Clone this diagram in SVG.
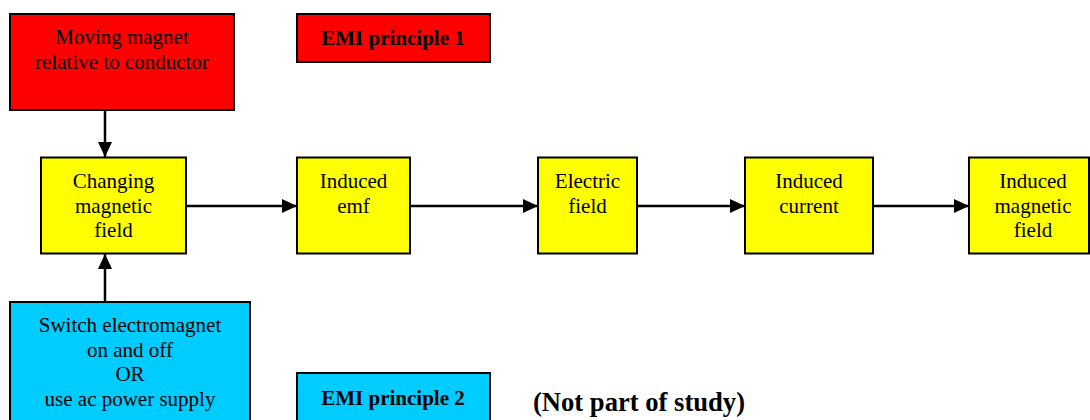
<svg xmlns="http://www.w3.org/2000/svg" width="1090" height="420" viewBox="0 0 1090 420">
<defs>
<style>
.box{stroke:#000;stroke-width:2}
.red{fill:#FF0000}
.yel{fill:#FFFF00}
.cyan{fill:#00CCFF}
text{font-family:"Liberation Serif","Times New Roman",serif;font-size:21px;fill:#000;text-anchor:middle}
.b{font-weight:bold}
.big{font-size:26.6px;text-anchor:start}
.conn line{stroke:#000;stroke-width:2.5}
</style>
<marker id="ah" viewBox="0 0 15 14" refX="15" refY="7" markerWidth="15" markerHeight="14" markerUnits="userSpaceOnUse" orient="auto">
<path d="M0,0 L15,7 L0,14 Z" fill="#000"/>
</marker>
</defs>
<rect width="1090" height="420" fill="#fff"/>
<g class="conn">
<line x1="105" y1="110" x2="105" y2="157" marker-end="url(#ah)"/>
<line x1="105" y1="302" x2="105" y2="254" marker-end="url(#ah)"/>
<line x1="186" y1="206" x2="297" y2="206" marker-end="url(#ah)"/>
<line x1="410" y1="206" x2="538" y2="206" marker-end="url(#ah)"/>
<line x1="637" y1="206" x2="745" y2="206" marker-end="url(#ah)"/>
<line x1="873" y1="206" x2="969" y2="206" marker-end="url(#ah)"/>
</g>
<g id="moving-magnet">
<rect class="box red" x="10" y="14" width="224" height="96"/>
<text x="122" y="44">Moving magnet</text>
<text x="122" y="69">relative to conductor</text>
</g>
<g id="emi1">
<rect class="box red" x="297" y="14" width="193" height="48"/>
<text class="b" x="393" y="45">EMI principle 1</text>
</g>
<g id="changing-field">
<rect class="box yel" x="41" y="157.5" width="145" height="96"/>
<text x="113.5" y="188">Changing</text>
<text x="113.5" y="212.5">magnetic</text>
<text x="113.5" y="237">field</text>
</g>
<g id="induced-emf">
<rect class="box yel" x="297" y="157.5" width="113" height="96"/>
<text x="353.5" y="188">Induced</text>
<text x="353.5" y="212.5">emf</text>
</g>
<g id="electric-field">
<rect class="box yel" x="538" y="157.5" width="99" height="96"/>
<text x="587.5" y="188">Electric</text>
<text x="587.5" y="212.5">field</text>
</g>
<g id="induced-current">
<rect class="box yel" x="745" y="157.5" width="128" height="96"/>
<text x="809" y="188">Induced</text>
<text x="809" y="212.5">current</text>
</g>
<g id="induced-magnetic-field">
<rect class="box yel" x="969" y="157.5" width="120" height="96"/>
<text x="1033" y="188">Induced</text>
<text x="1033" y="212.5">magnetic</text>
<text x="1033" y="237">field</text>
</g>
<g id="switch-electromagnet">
<rect class="box cyan" x="10" y="302" width="240" height="130"/>
<text x="130" y="332">Switch electromagnet</text>
<text x="130" y="356.5">on and off</text>
<text x="130" y="381">OR</text>
<text x="130" y="405.5">use ac power supply</text>
</g>
<g id="emi2">
<rect class="box cyan" x="297" y="373" width="193" height="60"/>
<text class="b" x="393" y="405">EMI principle 2</text>
</g>
<text class="b big" x="533" y="411">(Not part of study)</text>
</svg>
